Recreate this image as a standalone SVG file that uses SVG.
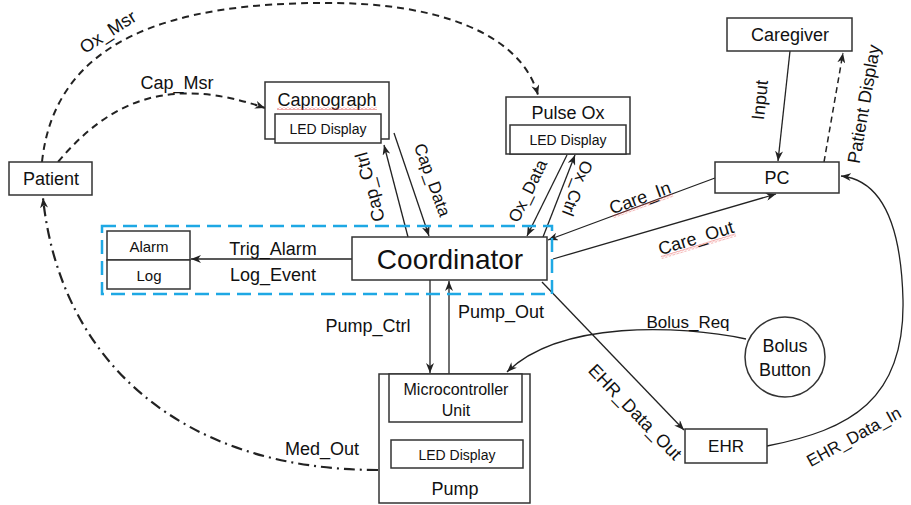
<svg xmlns="http://www.w3.org/2000/svg" width="911" height="505" viewBox="0 0 911 505">
<defs>
<style>
text{font-family:"Liberation Sans",Arial,sans-serif;fill:#111;}
.nt{font-size:18px;text-anchor:middle;dominant-baseline:central;}
.sm{font-size:14px;text-anchor:middle;dominant-baseline:central;}
.lb{font-size:18px;text-anchor:middle;dominant-baseline:central;}
.box{fill:#fff;stroke:#333;stroke-width:1.5;}
.ln{fill:none;stroke:#222;stroke-width:1.3;}
.dash{fill:none;stroke:#222;stroke-width:2;stroke-dasharray:7 5;}
.dashthin{fill:none;stroke:#222;stroke-width:1.5;stroke-dasharray:6 4;}
.dashdot{fill:none;stroke:#222;stroke-width:2.2;stroke-dasharray:11 5 2 5;}
.grp{fill:none;stroke:#1EA8E4;stroke-width:2.5;stroke-dasharray:14 7;}
</style>
<marker id="arr" viewBox="0 0 10 8" refX="10" refY="4" markerWidth="10" markerHeight="8" markerUnits="userSpaceOnUse" orient="auto">
<path d="M0,0 L10,4 L0,8 L3,4 z" fill="#222"/>
</marker>
<pattern id="wave" width="4" height="3" patternUnits="userSpaceOnUse">
<path d="M0,2.5 L2,0.5 L4,2.5" stroke="#e03030" fill="none" stroke-width="0.8"/>
</pattern>
</defs>

<g id="connectors">
<path class="dash" d="M42,162 C55,40 170,2 330,3 C430,3 520,30 538,95" marker-end="url(#arr)"/>
<path class="dash" d="M58,162 C110,100 170,75 265,108" marker-end="url(#arr)"/>
<path class="ln" d="M408,237 L384,145" marker-end="url(#arr)"/>
<path class="ln" d="M394,133 L429,236" marker-end="url(#arr)"/>
<path class="ln" d="M567,155 L527,236" marker-end="url(#arr)"/>
<path class="ln" d="M543,237 L575,155" marker-end="url(#arr)"/>
<path class="ln" d="M715,178 L548,240" marker-end="url(#arr)"/>
<path class="ln" d="M553,259 L776,194" marker-end="url(#arr)"/>
<path class="ln" d="M352,259 L191,259" marker-end="url(#arr)"/>
<path class="ln" d="M430,280 L430,373" marker-end="url(#arr)"/>
<path class="ln" d="M449,374 L449,281" marker-end="url(#arr)"/>
<path class="ln" d="M542,282 L684,430" marker-end="url(#arr)"/>
<path class="ln" d="M746,339 C680,325 560,320 507,372" marker-end="url(#arr)"/>
<path class="ln" d="M767,446 C850,430 905,400 903,300 C901,220 880,180 841,176" marker-end="url(#arr)"/>
<path class="ln" d="M790,51 L778,161" marker-end="url(#arr)"/>
<path class="dashthin" d="M824,162 L843,53" marker-end="url(#arr)"/>
<path class="dashdot" d="M378,470 C180,470 60,360 43,198" marker-end="url(#arr)"/>

<text class="lb" transform="translate(108,32) rotate(-33)">Ox_Msr</text>
<text class="lb" x="177" y="83">Cap_Msr</text>
<text class="lb" transform="translate(370,187) rotate(-105)">Cap_Ctrl</text>
<text class="lb" style="font-size:17px" transform="translate(432,180) rotate(70)">Cap_Data</text>
<text class="lb" style="font-size:17px" transform="translate(528,191) rotate(-64)">Ox_Data</text>
<text class="lb" style="font-size:17px" transform="translate(577,188) rotate(111)">Ox_Ctrl</text>
<g transform="translate(640,198) rotate(-20)">
<rect x="-32" y="7" width="64" height="3" fill="url(#wave)"/>
<text class="lb" x="0" y="0">Care_In</text>
</g>
<g transform="translate(696,238) rotate(-17)">
<rect x="-39" y="7" width="78" height="3" fill="url(#wave)"/>
<text class="lb" x="0" y="0">Care_Out</text>
</g>
<text class="lb" x="273" y="249">Trig_Alarm</text>
<text class="lb" x="273" y="275">Log_Event</text>
<text class="lb" x="368" y="326">Pump_Ctrl</text>
<text class="lb" x="501" y="312">Pump_Out</text>
<text class="lb" style="font-size:17px" x="688" y="322">Bolus_Req</text>
<text class="lb" transform="translate(635,412) rotate(46)">EHR_Data_Out</text>
<text class="lb" style="font-size:17px" transform="translate(854,437) rotate(-29)">EHR_Data_In</text>
<text class="lb" transform="translate(760,100) rotate(-84)">Input</text>
<text class="lb" transform="translate(864,104) rotate(-80)">Patient Display</text>
<text class="lb" x="322" y="449">Med_Out</text>
</g>

<g id="patient">
<rect class="box" x="9" y="162" width="83" height="33"/>
<text class="nt" x="51" y="179">Patient</text>
</g>

<g id="capnograph">
<rect class="box" x="265" y="82" width="124" height="57"/>
<rect class="box" x="275" y="114" width="106" height="29"/>
<text class="nt" x="327" y="100">Capnograph</text>
<rect x="277" y="107" width="100" height="3" fill="url(#wave)"/>
<text class="sm" x="328" y="129">LED Display</text>
</g>

<g id="pulse-ox">
<rect class="box" x="506" y="97" width="124" height="57"/>
<rect class="box" x="510" y="125" width="116" height="29"/>
<text class="nt" x="568" y="113">Pulse Ox</text>
<text class="sm" x="568" y="140">LED Display</text>
</g>

<g id="caregiver">
<rect class="box" x="727" y="18" width="125" height="33"/>
<text class="nt" x="790" y="35">Caregiver</text>
</g>

<g id="pc">
<rect class="box" x="715" y="162" width="124" height="31"/>
<text class="nt" x="777" y="178">PC</text>
</g>

<g id="alarm-log">
<rect class="grp" x="102" y="226" width="450" height="68"/>
<rect class="box" x="107" y="231" width="83" height="29"/>
<rect class="box" x="107" y="260" width="83" height="29"/>
<text class="sm" style="font-size:15px" x="149" y="246">Alarm</text>
<text class="sm" style="font-size:15px" x="149" y="275">Log</text>
</g>

<g id="coordinator">
<rect class="box" x="352" y="237" width="195" height="43"/>
<text x="450" y="259" style="font-size:28px;text-anchor:middle;dominant-baseline:central">Coordinator</text>
</g>

<g id="pump">
<rect class="box" x="379" y="374" width="151" height="129"/>
<rect class="box" x="389" y="374" width="133" height="48"/>
<rect class="box" x="391" y="440" width="132" height="28"/>
<text class="sm" style="font-size:16px" x="456" y="389">Microcontroller</text>
<text class="sm" style="font-size:16px" x="456" y="410">Unit</text>
<text class="sm" x="457" y="455">LED Display</text>
<text class="nt" x="455" y="489">Pump</text>
</g>

<g id="bolus-button">
<circle cx="785" cy="357" r="40" class="box"/>
<text class="nt" x="785" y="346">Bolus</text>
<text class="nt" x="785" y="370">Button</text>
</g>

<g id="ehr">
<rect class="box" x="685" y="429" width="82" height="34"/>
<text class="nt" style="font-size:17px" x="726" y="446">EHR</text>
</g>
</svg>
